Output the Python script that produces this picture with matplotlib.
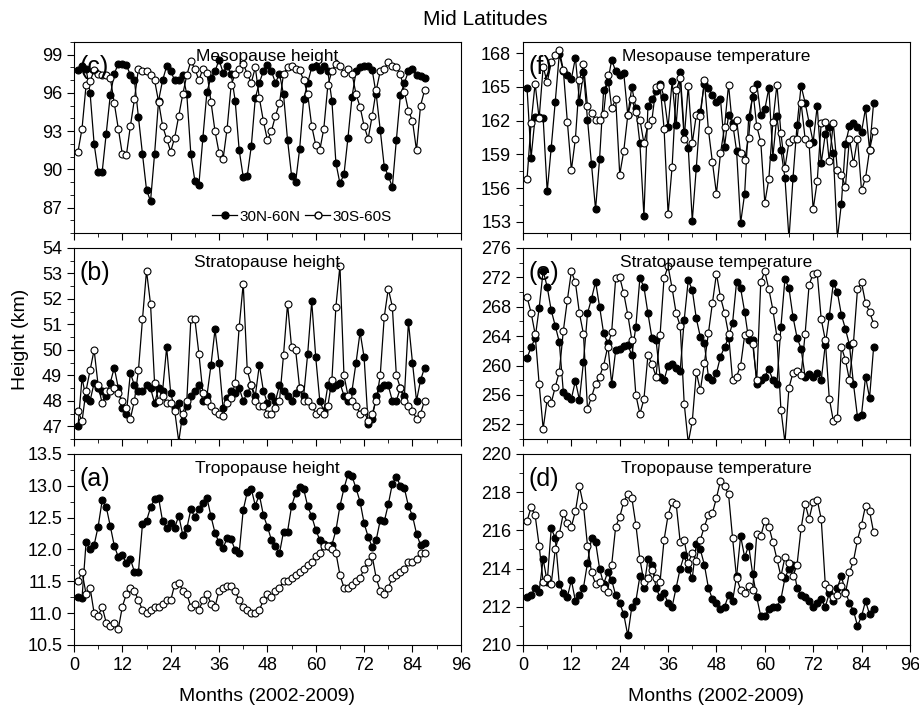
import numpy as np
import matplotlib
matplotlib.use('Agg')
import matplotlib.pyplot as plt
from matplotlib.lines import Line2D
from matplotlib.ticker import MultipleLocator, FormatStrFormatter

plt.rcParams['font.family'] = ['Liberation Sans', 'DejaVu Sans']

months = np.arange(1, 88)

# (c) mesopause height, km
meso_h_n = [97.8, 98.1, 97.9, 96.0, 92.0, 89.8, 89.8, 92.8, 95.8, 97.5, 98.3, 98.3, 98.2, 97.4, 97.0, 94.1,
            91.2, 88.4, 87.5, 91.2, 95.4, 97.0, 98.1, 97.7, 97.0, 97.0, 97.4, 95.9, 91.2, 89.1, 88.8, 92.5,
            96.1, 97.2, 97.7, 98.6, 97.6, 98.1, 97.5, 95.4, 91.5, 89.4, 89.5, 91.8, 95.6, 96.8, 97.7, 98.2,
            97.7, 96.8, 97.5, 95.9, 92.3, 89.5, 89.0, 91.6, 95.5, 96.8, 98.0, 98.1, 97.8, 98.1, 97.7, 95.4,
            90.5, 88.9, 89.6, 92.5, 95.7, 97.7, 98.0, 98.1, 98.1, 97.8, 95.9, 93.1, 90.2, 89.5, 88.6, 92.3,
            95.8, 96.8, 97.7, 97.9, 97.4, 97.3, 97.2]
meso_h_s = [91.4, 93.2, 96.6, 96.9, 97.8, 97.5, 97.4, 97.4, 97.2, 95.2, 93.2, 91.2, 91.1, 93.4, 95.5, 97.9,
            97.7, 97.7, 97.4, 97.0, 95.3, 93.4, 92.4, 91.4, 92.5, 94.2, 95.9, 97.4, 98.5, 97.9, 97.0, 97.9,
            97.6, 95.3, 93.0, 91.3, 90.8, 93.2, 96.6, 97.5, 97.9, 98.3, 97.5, 96.8, 98.0, 95.6, 93.8, 92.3,
            93.0, 94.2, 95.2, 97.5, 98.0, 98.1, 97.9, 97.8, 97.0, 95.9, 93.4, 91.9, 91.5, 93.2, 96.6, 97.7,
            98.3, 98.1, 97.6, 97.9, 97.5, 95.9, 94.9, 93.4, 92.4, 94.2, 96.2, 97.7, 97.9, 98.4, 98.1, 98.0,
            97.5, 96.1, 94.6, 93.8, 91.5, 95.0, 96.2]

# (b) stratopause height, km
strat_h_n = [47.0, 48.9, 48.1, 48.0, 48.7, 48.5, 48.4, 48.2, 48.7, 49.3, 48.5, 47.7, 47.5, 49.1, 48.6, 48.4,
             48.4, 48.6, 48.5, 47.9, 48.5, 48.4, 50.1, 48.3, 47.7, 47.9, 47.2, 47.8, 48.2, 48.4, 48.6, 48.0,
             48.2, 49.4, 50.8, 49.5, 47.7, 48.1, 48.4, 48.3, 48.5, 48.0, 48.3, 48.6, 48.2, 49.4, 48.4, 47.9,
             48.2, 48.0, 48.6, 48.4, 48.2, 48.0, 48.3, 48.5, 48.2, 49.85, 51.9, 49.7, 48.0, 47.6, 48.6, 48.5,
             48.6, 48.7, 48.2, 48.0, 48.4, 49.5, 50.7, 49.7, 47.1, 47.3, 48.2, 48.5, 48.6, 48.6, 48.0, 48.0,
             48.5, 48.2, 51.1, 49.5, 48.0, 48.8, 49.3]
strat_h_s = [47.6, 47.2, 48.4, 49.2, 50.0, 48.6, 47.9, 48.4, 48.4, 48.5, 48.3, 48.0, 47.7, 47.3, 48.0, 49.2,
             51.2, 53.1, 51.8, 48.7, 48.0, 48.2, 47.9, 47.9, 47.6, 46.4, 47.5, 48.0, 51.2, 51.2, 49.85, 48.3,
             48.0, 47.8, 47.6, 47.5, 47.4, 47.9, 48.1, 48.7, 50.9, 52.6, 49.2, 48.6, 48.0, 47.8, 47.8, 47.5,
             47.5, 47.7, 48.0, 49.8, 51.8, 50.1, 50.0, 48.5, 48.0, 48.0, 47.8, 47.5, 47.6, 47.5, 47.8, 48.8,
             51.7, 53.3, 49.0, 48.2, 48.0, 47.8, 47.5, 47.6, 47.2, 47.5, 48.0, 49.0, 51.3, 52.4, 51.7, 49.0,
             48.5, 48.0, 47.8, 47.6, 47.3, 47.5, 48.0]

# (a) tropopause height, km
trop_h_n = [11.25, 11.24, 12.11, 12.0, 12.07, 12.36, 12.77, 12.67, 12.37, 12.06, 11.88, 11.92, 11.78, 11.85,
            11.65, 11.65, 12.40, 12.45, 12.66, 12.79, 12.81, 12.44, 12.34, 12.42, 12.34, 12.53, 12.23, 12.33,
            12.63, 12.51, 12.63, 12.73, 12.81, 12.52, 12.26, 12.11, 12.02, 12.18, 12.16, 11.99, 11.95, 12.62,
            12.90, 12.95, 12.69, 12.86, 12.54, 12.36, 12.15, 12.05, 11.94, 12.28, 12.28, 12.68, 12.88, 12.98,
            12.95, 12.68, 12.52, 12.31, 12.15, 12.08, 12.05, 12.07, 12.30, 12.68, 12.96, 13.18, 13.15, 12.96,
            12.75, 12.41, 12.20, 12.04, 12.15, 12.46, 12.44, 12.71, 13.03, 13.14, 13.00, 12.96, 12.68, 12.53,
            12.25, 12.07, 12.10]
trop_h_s = [11.5, 11.65, 11.3, 11.4, 11.0, 10.95, 11.1, 10.85, 10.8, 10.85, 10.75, 11.1, 11.3, 11.4, 11.35,
            11.2, 11.05, 11.0, 11.05, 11.1, 11.1, 11.15, 11.2, 11.2, 11.45, 11.48, 11.35, 11.3, 11.1, 11.15,
            11.05, 11.2, 11.3, 11.15, 11.1, 11.35, 11.4, 11.42, 11.42, 11.35, 11.2, 11.1, 11.05, 11.0, 11.0,
            11.05, 11.2, 11.3, 11.25, 11.35, 11.4, 11.5, 11.5, 11.55, 11.6, 11.65, 11.7, 11.75, 11.8, 11.9,
            11.95, 12.05, 12.05, 12.0, 11.95, 11.6, 11.4, 11.4, 11.45, 11.5, 11.55, 11.7, 11.8, 11.9, 11.55,
            11.35, 11.3, 11.4, 11.55, 11.6, 11.65, 11.7, 11.8, 11.8, 11.85, 11.95, 11.95]

# (f) mesopause temperature, K
meso_t_n = [164.9, 158.7, 162.3, 162.3, 162.2, 155.7, 159.6, 163.7, 167.9, 166.4, 166.1, 165.7, 167.6, 163.7,
            166.3, 162.1, 158.1, 154.1, 158.6, 164.7, 165.4, 167.4, 166.4, 166.1, 166.2, 162.5, 165.0, 163.1,
            160.0, 153.5, 163.3, 163.9, 164.6, 165.3, 164.1, 161.4, 165.5, 161.6, 166.3, 161.0, 159.6, 153.1,
            157.8, 162.8, 165.3, 164.9, 164.3, 163.7, 163.9, 159.7, 162.5, 161.8, 159.3, 152.9, 155.5, 162.3,
            164.1, 165.3, 162.5, 163.0, 164.9, 158.8, 162.4, 159.4, 156.9, 151.5, 156.9, 161.6, 165.1, 163.6,
            161.8, 160.1, 163.3, 158.2, 160.8, 161.4, 159.1, 151.5, 154.6, 159.9, 161.5, 161.8, 161.4, 161.0,
            163.1, 159.4, 163.6]
meso_t_s = [156.8, 161.8, 165.3, 162.2, 166.8, 165.4, 167.2, 167.8, 168.3, 166.5, 161.9, 157.6, 160.4, 165.6,
            167.0, 163.3, 162.7, 162.1, 162.1, 162.6, 166.1, 163.1, 163.9, 157.2, 159.3, 162.5, 163.9, 162.8,
            162.1, 160.0, 161.6, 162.1, 165.0, 165.1, 161.3, 153.7, 157.9, 164.7, 165.8, 160.4, 165.1, 160.0,
            162.5, 162.4, 165.6, 161.2, 158.3, 155.5, 159.1, 161.4, 165.2, 161.4, 162.1, 159.1, 158.5, 160.5,
            164.8, 161.5, 160.1, 154.7, 156.8, 161.9, 165.2, 160.9, 157.8, 160.1, 160.4, 160.4, 163.6, 160.4,
            159.9, 154.1, 156.6, 161.8, 161.9, 158.4, 161.8, 157.6, 157.2, 156.1, 160.4, 158.2, 160.4, 155.8,
            156.9, 159.4, 161.1]

# (e) stratopause temperature, K
strat_t_n = [261.0, 262.5, 263.7, 267.8, 272.9, 270.7, 267.5, 265.4, 263.2, 256.4, 255.9, 255.5, 257.9, 255.3,
             260.5, 267.1, 269.1, 271.4, 268.0, 264.4, 263.1, 257.5, 262.1, 262.3, 262.6, 262.8, 261.4, 265.3,
             271.9, 270.7, 267.1, 263.7, 263.5, 258.5, 258.0, 260.0, 260.2, 259.6, 259.3, 266.2, 271.6, 270.3,
             266.4, 263.9, 263.0, 258.5, 258.0, 259.0, 261.2, 262.5, 263.8, 265.8, 271.4, 270.5, 267.3, 263.5,
             263.5, 257.5, 258.0, 258.5, 259.5, 258.0, 257.5, 265.3, 271.8, 270.5, 266.6, 263.8, 262.3, 258.5,
             258.8, 258.5, 259.0, 258.0, 262.8, 266.7, 271.2, 270.0, 266.9, 265.0, 262.8, 257.5, 253.0, 253.3,
             258.5, 255.6, 262.5]
strat_t_s = [269.3, 267.2, 264.3, 257.5, 251.4, 255.4, 254.9, 257.1, 259.1, 264.7, 268.9, 272.8, 271.3, 267.1,
             264.3, 254.1, 255.7, 257.5, 258.5, 260.0, 262.5, 264.6, 271.9, 272.0, 269.8, 266.9, 263.5, 256.0,
             253.4, 255.4, 261.4, 260.2, 258.5, 264.1, 271.9, 273.5, 270.5, 267.1, 265.4, 254.8, 249.5, 252.4,
             259.1, 256.6, 260.3, 264.4, 268.5, 272.5, 269.3, 267.2, 264.3, 258.0, 258.5, 260.0, 264.1, 264.4,
             262.9, 258.0, 271.4, 272.8, 270.4, 267.6, 263.9, 254.0, 249.5, 257.0, 259.0, 259.2, 258.7, 264.3,
             271.0, 272.5, 272.6, 266.3, 263.5, 255.5, 252.5, 252.8, 262.5, 260.8, 258.0, 263.1, 270.4, 271.3,
             268.5, 267.3, 265.7]

# (d) tropopause temperature, K
trop_t_n = [212.5, 212.6, 213.0, 212.8, 214.5, 213.3, 216.1, 215.6, 213.2, 212.7, 212.5, 213.4, 212.3, 212.6,
            213.0, 214.3, 215.6, 215.4, 214.0, 213.2, 213.8, 213.4, 212.6, 212.2, 211.6, 210.5, 212.0, 212.3,
            213.6, 213.0, 214.5, 214.2, 213.0, 212.5, 212.7, 212.2, 212.0, 213.0, 214.0, 214.7, 214.0, 213.5,
            215.3, 215.0, 214.2, 213.0, 212.4, 212.2, 211.9, 212.0, 212.6, 212.3, 213.6, 215.7, 214.6, 215.2,
            213.7, 212.5, 211.5, 211.5, 211.9, 212.0, 212.0, 212.4, 213.5, 214.0, 214.2, 213.0, 212.6, 212.5,
            212.3, 212.0, 212.2, 212.4, 212.0, 212.7, 212.3, 213.0, 213.6, 212.8, 212.2, 211.8, 211.0, 211.5,
            212.3, 211.6, 211.9]
trop_t_s = [216.5, 217.2, 216.8, 215.2, 213.3, 213.5, 213.2, 215.0, 215.8, 216.9, 216.4, 216.2, 217.0, 218.3,
            217.3, 215.2, 213.8, 213.2, 213.3, 213.0, 212.8, 214.2, 216.2, 216.7, 217.5, 217.9, 217.7, 216.3,
            214.5, 213.3, 213.5, 213.9, 213.5, 213.3, 215.5, 216.8, 217.5, 217.4, 215.4, 215.5, 214.3, 214.8,
            214.4, 215.5, 216.2, 216.8, 216.9, 217.7, 218.6, 218.3, 217.9, 215.6, 213.5, 212.9, 212.7, 213.1,
            212.9, 215.8, 215.7, 216.5, 216.2, 215.4, 214.5, 213.6, 214.6, 214.3, 213.6, 214.2, 216.1, 217.4,
            216.6, 217.5, 217.6, 216.6, 213.2, 213.0, 212.5, 212.6, 213.1, 212.7, 213.8, 214.4, 215.5, 216.3,
            217.3, 217.0, 215.9]

panels = [
    # letter, title, north, south, ylim, first tick, major, minor, fmt, position
    ('(c)', 'Mesopause height', meso_h_n, meso_h_s, (85, 100), 87, 3, 1, '%d', (0.0804, 0.6704)),
    ('(b)', 'Stratopause height', strat_h_n, strat_h_s, (46.5, 54), 47, 1, 0.5, '%d', (0.0804, 0.3791)),
    ('(a)', 'Tropopause height', trop_h_n, trop_h_s, (10.5, 13.5), 10.5, 0.5, 0.25, '%.1f', (0.0804, 0.0877)),
    ('(f)', 'Mesopause temperature', meso_t_n, meso_t_s, (152, 169), 153, 3, 1.5, '%d', (0.5685, 0.6704)),
    ('(e)', 'Stratopause temperature', strat_t_n, strat_t_s, (250, 276), 252, 4, 2, '%d', (0.5685, 0.3791)),
    ('(d)', 'Tropopause temperature', trop_t_n, trop_t_s, (210, 220), 210, 2, 1, '%d', (0.5685, 0.0877)),
]

fig = plt.figure(figsize=(9.2, 7.07), dpi=100)

for letter, title, north, south, ylim, y0, major, minor, fmt, pos in panels:
    ax = fig.add_axes([pos[0], pos[1], 0.4205, 0.2702])
    ax.plot(months, north, '-o', color='black', lw=0.9, ms=5, mfc='black', mec='black', mew=0.8)
    ax.plot(months, south, '-o', color='black', lw=0.9, ms=5, mfc='white', mec='black', mew=0.8)
    ax.set_xlim(0, 96)
    ax.set_ylim(*ylim)
    ax.xaxis.set_major_locator(MultipleLocator(12))
    ax.xaxis.set_minor_locator(MultipleLocator(6))
    ax.set_yticks(np.arange(y0, ylim[1] + 1e-6, major))
    ax.yaxis.set_minor_locator(MultipleLocator(minor))
    ax.yaxis.set_major_formatter(FormatStrFormatter(fmt))
    ax.tick_params(which='both', direction='out', top=False, right=False, labelsize=13)
    ax.tick_params(which='major', length=5)
    ax.tick_params(which='minor', length=3)
    if pos[1] > 0.1:
        ax.tick_params(labelbottom=False)
    else:
        ax.set_xlabel('Months (2002-2009)', fontsize=14, labelpad=10)
    ax.text(0.015, 0.93, letter, transform=ax.transAxes, fontsize=18, va='top', ha='left')
    ax.text(0.5, 0.965, title, transform=ax.transAxes, fontsize=12.5, va='top', ha='center')
    if letter == '(c)':
        handles = [Line2D([], [], color='black', lw=0.9, marker='o', ms=5, mfc='black', mec='black'),
                   Line2D([], [], color='black', lw=0.9, marker='o', ms=5, mfc='white', mec='black')]
        ax.legend(handles, ['30N-60N', '30S-60S'], ncol=2, frameon=False, fontsize=11,
                  loc='center', bbox_to_anchor=(0.59, 0.085), handlelength=1.6,
                  handletextpad=0.2, columnspacing=0.3, borderpad=0)

fig.text(0.527, 0.972, 'Mid Latitudes', fontsize=15, ha='center', va='center')
fig.text(0.022, 0.52, 'Height (km)', fontsize=14, rotation=90, ha='center', va='center')

fig.savefig('out.png', dpi=100)
